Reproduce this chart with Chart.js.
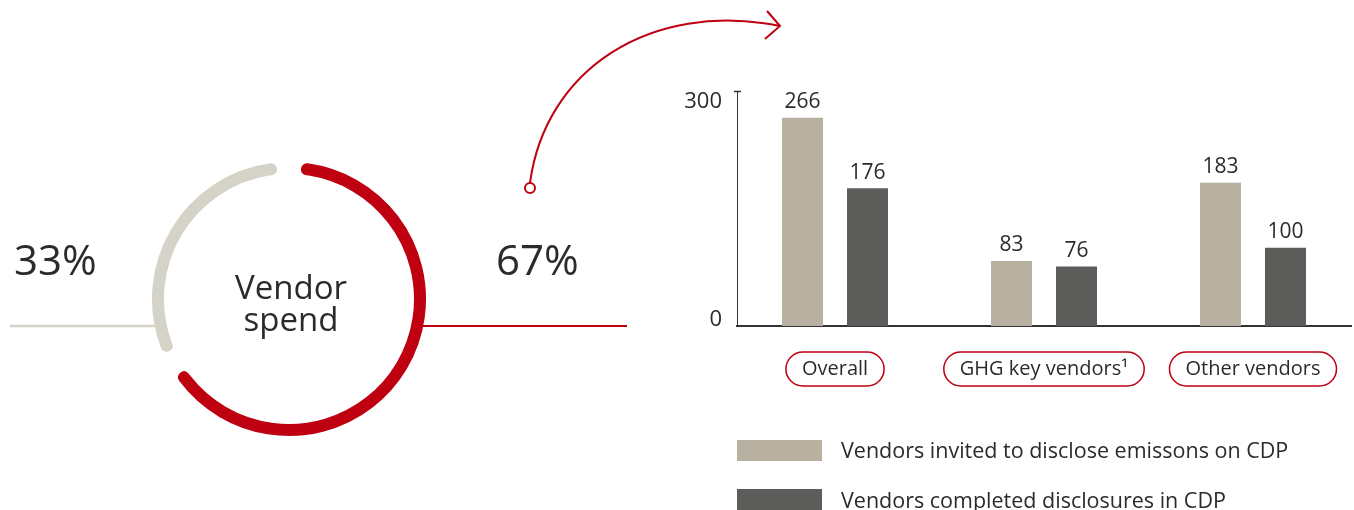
<!DOCTYPE html>
<html>
<head>
<meta charset="utf-8">
<script src="https://cdn.jsdelivr.net/npm/chart.js@4.4.1/dist/chart.umd.min.js"></script>
<style>
  html, body { margin: 0; padding: 0; background: #fff; width: 1354px; height: 510px; overflow: hidden; }
  .abs { position: absolute; }
  svg text { font-family: "Open Sans", sans-serif; fill: #2b2b2b; }
</style>
</head>
<body>
<div class="abs" style="left:128px;top:138px;width:322px;height:322px"><canvas id="donut"></canvas></div>
<div class="abs" style="left:660px;top:60px;width:694px;height:340px"><canvas id="bars"></canvas></div>
<svg class="abs" style="left:0;top:0" width="1354" height="510" id="deco">
  <line x1="10" y1="326" x2="157" y2="326" stroke="#d5d3c8" stroke-width="2.5"/>
  <line x1="422" y1="326" x2="627" y2="326" stroke="#be0011" stroke-width="2"/>
  <path d="M530,183 C545,70 650,0 780,26" fill="none" stroke="#be0011" stroke-width="2"/>
  <path d="M767,11 L780,26 L765,39" fill="none" stroke="#be0011" stroke-width="2"/>
  <circle cx="530" cy="188" r="5" fill="#fff" stroke="#be0011" stroke-width="2"/>
  <text id="pctRight" x="496" y="275" font-size="42"></text>
  <text id="pctLeft" x="14" y="275" font-size="42"></text>
  <text x="291" y="299" font-size="33" text-anchor="middle">Vendor</text>
  <text x="291" y="331" font-size="33" text-anchor="middle">spend</text>
  <rect id="lg0" x="737" y="440" width="85" height="21"/>
  <rect id="lg1" x="737" y="489" width="85" height="21"/>
  <text id="lt0" x="841" y="458" font-size="21.5"></text>
  <text id="lt1" x="841" y="508" font-size="21.5"></text>
</svg>
<script>
// ---- data ----
const shareLabels = ['Vendor spend (share A)', 'Vendor spend (share B)'];
const shares = [67, 33];
const categories = ['Overall', 'GHG key vendors\u00B9', 'Other vendors'];
const invited = [266, 83, 183];
const completed = [176, 76, 100];
const seriesNames = ['Vendors invited to disclose emissons on CDP', 'Vendors completed disclosures in CDP'];
const yTicks = [0, 300];

const RED = '#be0011', RING_GREY = '#d5d3c8';
const BAR_COLORS = ['#b8b1a1', '#5c5d5b'];
const TEXT = '#2b2b2b';
const FONT = '"Open Sans", sans-serif';
Chart.defaults.font.family = FONT;

// decorations text from data
document.getElementById('pctRight').textContent = shares[0] + '%';
document.getElementById('pctLeft').textContent = shares[1] + '%';
[0, 1].forEach(i => {
  document.getElementById('lg' + i).setAttribute('fill', BAR_COLORS[i]);
  document.getElementById('lt' + i).textContent = seriesNames[i];
});

// ---- doughnut ----
new Chart(document.getElementById('donut'), {
  type: 'doughnut',
  data: {
    labels: shareLabels,
    datasets: [{
      data: shares,
      backgroundColor: [RED, RING_GREY],
      borderColor: '#ffffff',
      borderWidth: 24,
      borderRadius: 18,
      hoverOffset: 0
    }]
  },
  options: {
    responsive: true,
    maintainAspectRatio: false,
    animation: false,
    events: [],
    radius: 149,
    cutout: '75.84%',
    rotation: 0,
    layout: { padding: 0 },
    plugins: { legend: { display: false }, tooltip: { enabled: false } }
  }
});

// ---- bar chart ----
const barDecor = {
  id: 'barDecor',
  afterDatasetsDraw(chart) {
    const ctx = chart.ctx;
    ctx.save();
    ctx.font = '21px ' + FONT;
    ctx.fillStyle = TEXT;
    ctx.textAlign = 'center';
    ctx.textBaseline = 'alphabetic';
    chart.data.datasets.forEach((ds, di) => {
      chart.getDatasetMeta(di).data.forEach((bar, i) => {
        ctx.fillText(String(ds.data[i].y), bar.x, bar.y - 9.5);
      });
    });
    ctx.restore();
  },
  afterDraw(chart) {
    const ctx = chart.ctx;
    const xs = chart.scales.x;
    const area = chart.chartArea;
    ctx.save();
    // pills around category labels
    ctx.font = '20px ' + FONT;
    ctx.strokeStyle = RED;
    ctx.lineWidth = 1.5;
    xs.ticks.forEach((t, i) => {
      const px = xs.getPixelForValue(t.value);
      const w = ctx.measureText(categories[i]).width + 32;
      const h = 34, top = xs.top + 26;
      ctx.beginPath();
      ctx.roundRect(px - w / 2, top, w, h, h / 2);
      ctx.stroke();
    });
    // small cap on top of y axis
    ctx.strokeStyle = '#333';
    ctx.lineWidth = 1.5;
    ctx.beginPath();
    ctx.moveTo(area.left - 3, area.top + 0.5);
    ctx.lineTo(area.left + 4, area.top + 0.5);
    ctx.stroke();
    ctx.restore();
  }
};

new Chart(document.getElementById('bars'), {
  type: 'bar',
  data: {
    datasets: [
      { label: seriesNames[0], data: invited.map((v, i) => ({ x: i, y: v })), backgroundColor: BAR_COLORS[0],
        barPercentage: 41 / 65, categoryPercentage: 130 / 209 },
      { label: seriesNames[1], data: completed.map((v, i) => ({ x: i, y: v })), backgroundColor: BAR_COLORS[1],
        barPercentage: 41 / 65, categoryPercentage: 130 / 209 }
    ]
  },
  options: {
    responsive: true,
    maintainAspectRatio: false,
    animation: false,
    events: [],
    layout: { padding: { top: 31, right: 3, left: 0, bottom: 0 } },
    plugins: { legend: { display: false }, tooltip: { enabled: false } },
    scales: {
      x: {
        type: 'linear',
        min: -0.469,
        max: 2.469,
        offset: false,
        grid: { display: false, drawTicks: false },
        border: { display: true, color: '#333', width: 2 },
        afterBuildTicks: s => { s.ticks = categories.map((c, i) => ({ value: i })); },
        afterFit: s => { s.height = 74; s.paddingLeft = 0; s.paddingRight = 0; },
        ticks: {
          callback: v => categories[v],
          font: { size: 20 },
          color: TEXT,
          padding: 31,
          maxRotation: 0,
          autoSkip: false
        }
      },
      y: {
        min: 0,
        max: 300,
        afterBuildTicks: s => { s.ticks = yTicks.map(v => ({ value: v })); },
        afterFit: s => { s.width = 77; s.paddingTop = 0; s.paddingBottom = 0; },
        grid: { display: false, drawTicks: false },
        border: { display: true, color: '#333', width: 1 },
        ticks: {
          padding: 15,
          color: TEXT,
          callback: v => (v === 0 ? [String(v), ''] : ['', String(v)]),
          font: ctx => (ctx.tick && ctx.tick.value === 0 ? { size: 22, lineHeight: 0.59 } : { size: 22, lineHeight: 0.955 })
        }
      }
    }
  },
  plugins: [barDecor]
});
</script>
</body>
</html>
